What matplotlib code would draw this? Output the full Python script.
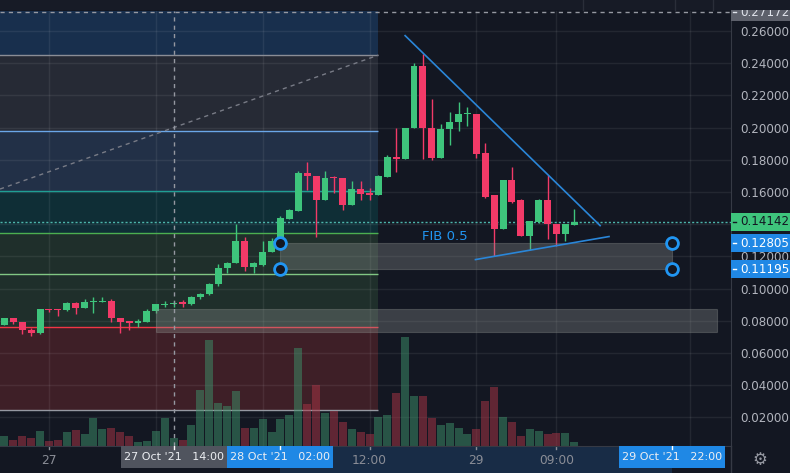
import numpy as np
import matplotlib.pyplot as plt
from matplotlib.patches import Rectangle
from matplotlib.transforms import blended_transform_factory

# hourly candles, hour 0 = 27 Oct '21 00:00
hours = list(range(-5, 60))
opens = [0.0772, 0.0814, 0.0793, 0.0745, 0.0722, 0.0876, 0.0870, 0.0865, 0.0911, 0.0878,
         0.0915, 0.0915, 0.0925, 0.0820, 0.0797, 0.0784, 0.0791, 0.0859, 0.0896, 0.0901,
         0.0917, 0.0905, 0.0946, 0.0965, 0.1029, 0.1126, 0.1157, 0.1298, 0.1132, 0.1147,
         0.1225, 0.1309, 0.1435, 0.1484, 0.1720, 0.1702, 0.1547, 0.1691, 0.1689, 0.1522,
         0.1621, 0.1596, 0.1578, 0.1691, 0.1820, 0.1803, 0.1996, 0.2385, 0.1998, 0.1809,
         0.1989, 0.2033, 0.2083, 0.2087, 0.1839, 0.1578, 0.1368, 0.1677, 0.1547, 0.1325,
         0.1416, 0.1553, 0.1402, 0.1337, 0.1393]
highs = [0.0820, 0.0820, 0.0793, 0.0753, 0.0876, 0.0876, 0.0870, 0.0919, 0.0919, 0.0932,
         0.0950, 0.0950, 0.0932, 0.0820, 0.0797, 0.0809, 0.0871, 0.0905, 0.0921, 0.0925,
         0.0927, 0.0955, 0.0975, 0.1037, 0.1153, 0.1168, 0.1398, 0.1323, 0.1168, 0.1298,
         0.1311, 0.1453, 0.1497, 0.1733, 0.1783, 0.1702, 0.1733, 0.1702, 0.1689, 0.1671,
         0.1671, 0.1627, 0.1708, 0.1832, 0.2000, 0.2000, 0.2404, 0.2458, 0.2178, 0.2019,
         0.2099, 0.2157, 0.2130, 0.2087, 0.1901, 0.1578, 0.1677, 0.1752, 0.1557, 0.1422,
         0.1557, 0.1706, 0.1402, 0.1404, 0.1497]
lows = [0.0772, 0.0778, 0.0719, 0.0704, 0.0716, 0.0853, 0.0832, 0.0859, 0.0845, 0.0878,
        0.0851, 0.0915, 0.0791, 0.0722, 0.0741, 0.0764, 0.0791, 0.0851, 0.0884, 0.0888,
        0.0884, 0.0896, 0.0936, 0.0958, 0.1017, 0.1095, 0.1157, 0.1112, 0.1097, 0.1139,
        0.1225, 0.1300, 0.1429, 0.1484, 0.1611, 0.1323, 0.1547, 0.1596, 0.1491, 0.1522,
        0.1547, 0.1547, 0.1578, 0.1691, 0.1722, 0.1803, 0.1996, 0.1803, 0.1797, 0.1809,
        0.1894, 0.1981, 0.2012, 0.1809, 0.1561, 0.1205, 0.1368, 0.1530, 0.1325, 0.1240,
        0.1406, 0.1306, 0.1267, 0.1294, 0.1393]
closes = [0.0814, 0.0793, 0.0741, 0.0722, 0.0876, 0.0865, 0.0866, 0.0911, 0.0878, 0.0919,
          0.0919, 0.0925, 0.0816, 0.0791, 0.0784, 0.0801, 0.0863, 0.0901, 0.0905, 0.0913,
          0.0907, 0.0950, 0.0969, 0.1031, 0.1130, 0.1161, 0.1298, 0.1132, 0.1160, 0.1230,
          0.1298, 0.1441, 0.1491, 0.1720, 0.1698, 0.1547, 0.1689, 0.1685, 0.1522, 0.1621,
          0.1590, 0.1578, 0.1696, 0.1820, 0.1803, 0.2000, 0.2385, 0.1996, 0.1809, 0.1994,
          0.2037, 0.2087, 0.2089, 0.1834, 0.1571, 0.1368, 0.1677, 0.1540, 0.1325, 0.1422,
          0.1553, 0.1402, 0.1337, 0.1398, 0.1414]
volumes = [10, 6, 10, 8, 15, 5, 6, 14, 16, 12,
           28, 17, 18, 14, 10, 4, 5, 15, 28, 8,
           6, 21, 56, 106, 43, 40, 55, 18, 18, 27,
           14, 27, 31, 98, 42, 61, 33, 35, 24, 17,
           14, 12, 29, 31, 53, 109, 50, 50, 28, 21,
           23, 18, 12, 17, 45, 59, 29, 24, 10, 17,
           15, 12, 13, 13, 4]

price_ticks = np.arange(0.02, 0.2601, 0.02)
grid_hours = [0, 12, 24, 36, 48, 57, 72]
time_labels = [(0, '27'), (36, '12:00'), (48, '29'), (57, '09:00')]

fib_levels = [0.0245, 0.0764, 0.1090, 0.1345, 0.1606, 0.1978, 0.2450]
fib_line_colors = ['#9598a1', '#f23645', '#81c784', '#4caf50', '#1f9e94', '#6aa6e8', '#8a8d96']
fib_fill_colors = ['#3e1f27', '#1f2f2b', '#1f2f2b', '#0f2e36', '#223047', '#262a35', '#182f4d']
fib_end = 37
fib_trend_h = [-5.5, 37]
fib_trend_p = [0.1618, 0.2450]

zone_a = (26, 70, 0.11195, 0.12805)
zone_b = (12, 75, 0.0733, 0.0876)
down_h, down_p = [40, 61.9], [0.2571, 0.1391]
up_h, up_p = [47.9, 62.9], [0.1180, 0.1323]
last_price = 0.14142
cross_h, cross_p = 14, 0.27172

BG = '#131722'
GREEN = '#3ec47c'
RED = '#f23a68'
BLUE = '#2196f3'
W, H = 790, 473

fig = plt.figure(figsize=(7.9, 4.73), dpi=100, facecolor=BG)
ax = fig.add_axes([0, 27 / H, 731 / W, 435 / H])
ax.set_facecolor(BG)
x0, x1 = -5.5, 76.6
y0, y1 = 0.0022, 0.2724
ax.set_xlim(x0, x1)
ax.set_ylim(y0, y1)
px_h = 731 / (x1 - x0)
px_p = 435 / (y1 - y0)

# fib retracement
for i, lvl in enumerate(fib_levels):
    top = fib_levels[i + 1] if i + 1 < len(fib_levels) else 0.35
    ax.fill_between([x0 - 5, fib_end], lvl, top, color=fib_fill_colors[i], lw=0, zorder=0.2)
    ax.hlines(lvl, x0 - 5, fib_end, color=fib_line_colors[i], lw=1, zorder=0.6)
ax.plot(fib_trend_h, fib_trend_p, color='#787b86', ls=(0, (3, 3)), lw=1, zorder=0.7)

# grid
for p in price_ticks:
    ax.axhline(p, color='white', alpha=0.07, lw=1, zorder=0.5)
for h in grid_hours:
    ax.axvline(h, color='white', alpha=0.07, lw=1, zorder=0.5)

# candles
o = np.array(opens)
c = np.array(closes)
cols = [GREEN if cc >= oo else RED for oo, cc in zip(o, c)]
body_lo = np.minimum(o, c)
body_hi = np.maximum(np.abs(c - o), 1.2 / px_p)
ax.vlines(hours, lows, highs, colors=cols, lw=1, zorder=3)
ax.bar(hours, body_hi, bottom=body_lo, width=0.78, color=cols, lw=0, zorder=3)

# zones
for h0, h1, p0, p1 in (zone_a, zone_b):
    ax.add_patch(Rectangle((h0, p0), h1 - h0, p1 - p0, fc='#8f9390', alpha=0.33,
                           ec='#8f9390', lw=0.8, zorder=4))
ax.plot([zone_a[0], zone_a[0], zone_a[1], zone_a[1]],
        [zone_a[3], zone_a[2], zone_a[3], zone_a[2]], 'o', ms=8.5,
        mfc=BG, mec=BLUE, mew=2, zorder=8)

# trend lines
ax.plot(down_h, down_p, color='#2a86d8', lw=1.2, zorder=6)
ax.plot(up_h, up_p, color='#2a86d8', lw=1.2, zorder=6)
ax.text(44.5, 0.1325, 'FIB 0.5', color=BLUE, fontsize=9.5, ha='center', va='center', zorder=6)

ax.axhline(last_price, color='#4db6ac', ls=(0, (1.5, 1.5)), lw=1, zorder=2)
ax.axhline(cross_p, color='#9598a1', ls=(0, (3, 3)), lw=1, zorder=2)

# volume
vol = ax.twinx()
vol.set_ylim(0, max(volumes) / 0.25)
vcols = ['#3d916a' if cc >= oo else '#ad3546' for oo, cc in zip(o, c)]
vol.bar(hours, volumes, width=0.9, color=vcols, alpha=0.5, lw=0)
vol.set_yticks([])
for s in vol.spines.values():
    s.set_visible(False)
vol.axvline(cross_h, color='#9598a1', ls=(0, (3, 3)), lw=1)

# price axis (after twinx, which moves ticks to the left)
ax.yaxis.tick_right()
ax.yaxis.set_label_position('right')
ax.set_yticks(price_ticks)
ax.yaxis.set_major_formatter('{x:.5f}')
ax.tick_params(axis='y', length=0, pad=6.5, labelsize=8.6, labelcolor='#b2b5be',
               left=False, labelleft=False, right=True, labelright=True)
ax.set_xticks([])
for s in ('left', 'top', 'bottom'):
    ax.spines[s].set_visible(False)
ax.spines['right'].set_color('#363a45')

tr = blended_transform_factory(ax.transAxes, ax.transData)


def price_tag(p, face, tc):
    hh = 9 / px_p
    ax.add_patch(Rectangle((1.0, p - hh), 59 / 731, 2 * hh, transform=tr, fc=face,
                           ec='none', clip_on=False, zorder=6))
    ax.plot([1.0 + 2 / 731, 1.0 + 5 / 731], [p, p], transform=tr, color=tc, lw=1,
            clip_on=False, zorder=7)
    ax.text(1.0 + 9 / 731, p, f'{p:.5f}', transform=tr, color=tc, fontsize=8.6,
            ha='left', va='center', clip_on=False, zorder=7)


price_tag(cross_p, '#5d606b', '#e0e3eb')
price_tag(last_price, GREEN, '#131722')
price_tag(zone_a[3], '#2088e5', 'white')
price_tag(zone_a[2], '#2088e5', 'white')

# time axis
axt = fig.add_axes([0, 0, 731 / W, 27 / H], sharex=ax)
axt.set_facecolor(BG)
axt.set_ylim(0, 1)
axt.set_yticks([])
for s in ('left', 'right', 'bottom'):
    axt.spines[s].set_visible(False)
axt.spines['top'].set_color('#363a45')
axt.axvspan(zone_a[0], zone_a[1], color='#182c46', lw=0)
for h, lab in time_labels:
    axt.text(h, 0.48, lab, color='#8a8d96', fontsize=8.8, ha='center', va='center')
    axt.plot([h, h], [0.88, 1.0], color='#8a8d96', lw=1)


def time_tag(h, label, face):
    half = 53 / px_h
    axt.add_patch(Rectangle((h - half, 0.185), 2 * half, 0.815, fc=face, ec='none', zorder=3))
    axt.plot([h, h], [0.88, 1.0], color='white', lw=1, zorder=4)
    axt.text(h, 0.59, label, color='#eceef2', fontsize=8, ha='center', va='center', zorder=5)


time_tag(cross_h, "27 Oct '21   14:00", '#50545e')
time_tag(zone_a[0], "28 Oct '21   02:00", '#1f88e5')
time_tag(zone_a[1], "29 Oct '21   22:00", '#1f88e5')

# top toolbar strip and corner icon
fig.add_artist(Rectangle((0, 1 - 10 / H), 1, 10 / H, transform=fig.transFigure,
                         fc='#171b26', ec='none', zorder=10))
for xp in (583, 675, 713):
    fig.add_artist(plt.Line2D([xp / W, xp / W], [1 - 10 / H, 1], transform=fig.transFigure,
                              color='#2a2e39', lw=1, zorder=11))
fig.add_artist(plt.Line2D([731 / W, 731 / W], [0, 27 / H], transform=fig.transFigure,
                          color='#363a45', lw=1, zorder=11))
fig.text(760 / W, 1 - 460 / H, '\u2699', color='#9598a1', fontsize=12, ha='center', va='center')

fig.savefig('out.png', dpi=100, facecolor=BG)
